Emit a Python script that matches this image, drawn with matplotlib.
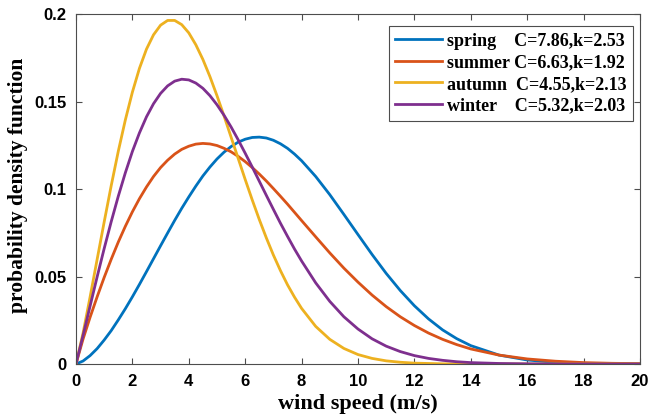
import matplotlib
matplotlib.use("Agg")
import matplotlib.pyplot as plt

# wind speed grid (m/s) and pdf values
speed = [0, 0.25, 0.5, 0.75, 1, 1.25, 1.5, 1.75, 2, 2.25, 2.5, 2.75, 3, 3.25, 3.5, 3.75,
         4, 4.25, 4.5, 4.75, 5, 5.25, 5.5, 5.75, 6, 6.25, 6.5, 6.75, 7, 7.25, 7.5, 7.75,
         8, 8.5, 9, 9.5, 10, 10.5, 11, 11.5, 12, 12.5, 13, 13.5, 14,
         15, 16, 17, 18, 19, 20]

spring = [0, 0.0017, 0.0048, 0.0088, 0.0137, 0.0191, 0.0252, 0.0316, 0.0384, 0.0455,
          0.0528, 0.0602, 0.0676, 0.0749, 0.0821, 0.0890, 0.0955, 0.1017, 0.1075, 0.1126,
          0.1172, 0.1211, 0.1243, 0.1268, 0.1285, 0.1295, 0.1297, 0.1292, 0.1279, 0.1259,
          0.1233, 0.1200, 0.1162, 0.1072, 0.0968, 0.0855, 0.0740, 0.0626, 0.0518, 0.0420,
          0.0333, 0.0258, 0.0195, 0.0145, 0.0105, 0.0051, 0.0023, 0.0009, 0.0003, 0.0001,
          0.0]
summer = [0, 0.0142, 0.0267, 0.0384, 0.0495, 0.0599, 0.0697, 0.0787, 0.0870, 0.0945,
          0.1012, 0.1072, 0.1123, 0.1165, 0.1200, 0.1227, 0.1245, 0.1257, 0.1261, 0.1258,
          0.1249, 0.1233, 0.1213, 0.1187, 0.1157, 0.1123, 0.1086, 0.1046, 0.1003, 0.0959,
          0.0914, 0.0867, 0.0820, 0.0727, 0.0635, 0.0548, 0.0468, 0.0394, 0.0328, 0.0270,
          0.0220, 0.0177, 0.0141, 0.0111, 0.0086, 0.0051, 0.0029, 0.0016, 0.0008, 0.0004,
          0.0002]
autumn = [0, 0.0176, 0.0383, 0.0598, 0.0812, 0.1020, 0.1216, 0.1395, 0.1554, 0.1690,
          0.1800, 0.1882, 0.1937, 0.1964, 0.1964, 0.1940, 0.1893, 0.1825, 0.1741, 0.1643,
          0.1534, 0.1418, 0.1297, 0.1176, 0.1055, 0.0938, 0.0826, 0.0721, 0.0623, 0.0534,
          0.0453, 0.0382, 0.0318, 0.0215, 0.0141, 0.0089, 0.0054, 0.0032, 0.0018, 0.0010,
          0.0005, 0.0003, 0.0001, 0.0001, 0.0, 0.0, 0.0, 0.0, 0.0, 0.0, 0.0]
winter = [0, 0.0163, 0.0331, 0.0498, 0.0660, 0.0814, 0.0959, 0.1093, 0.1215, 0.1321,
          0.1413, 0.1488, 0.1547, 0.1590, 0.1617, 0.1628, 0.1624, 0.1606, 0.1576, 0.1534,
          0.1482, 0.1422, 0.1355, 0.1282, 0.1205, 0.1126, 0.1045, 0.0964, 0.0884, 0.0805,
          0.0730, 0.0657, 0.0589, 0.0464, 0.0358, 0.0270, 0.0200, 0.0144, 0.0102, 0.0071,
          0.0048, 0.0032, 0.0021, 0.0013, 0.0008, 0.0003, 0.0001, 0.0, 0.0, 0.0, 0.0]

labels = ["spring    C=7.86,k=2.53",
          "summer C=6.63,k=1.92",
          "autumn  C=4.55,k=2.13",
          "winter    C=5.32,k=2.03"]
colors = ["#0072BD", "#D95319", "#EDB120", "#7E2F8E"]

fig = plt.figure(figsize=(6.63, 4.16), dpi=100)
ax = fig.add_axes([0.1146, 0.125, 0.8507, 0.841])

for y, lab, c in zip([spring, summer, autumn, winter], labels, colors):
    ax.plot(speed, y, color=c, lw=2, label=lab, solid_joinstyle="round")

ax.set_xlim(0, 20)
ax.set_ylim(0, 0.2)
ax.set_xticks(range(0, 21, 2))
ax.set_yticks([0, 0.05, 0.1, 0.15, 0.2])
ax.set_yticklabels(["0", "0.05", "0.1", "0.15", "0.2"])
ax.tick_params(direction="in", top=True, right=True, length=4, color="0.3",
               labelsize=12)
ax.tick_params(axis="x", pad=7)
ax.tick_params(axis="y", pad=7)
for t in ax.get_xticklabels() + ax.get_yticklabels():
    t.set_fontfamily("Liberation Sans")
    t.set_fontweight("bold")
for s in ax.spines.values():
    s.set_color("0.3")
    s.set_linewidth(0.8)

ax.set_xlabel("wind speed (m/s)", family="Liberation Serif", weight="bold",
              fontsize=16, labelpad=4)
ax.set_ylabel("probability density function", family="Liberation Serif",
              weight="bold", fontsize=15.5)
ax.yaxis.set_label_coords(-0.085, 0.51)

leg = ax.legend(loc="upper right", bbox_to_anchor=(0.988, 0.965),
                prop={"family": "Liberation Serif", "weight": "bold", "size": 13},
                fancybox=False, edgecolor="0.3", framealpha=1,
                handlelength=2.6, handletextpad=0.3, borderpad=0.35,
                labelspacing=0.25, borderaxespad=0)
leg.get_frame().set_linewidth(0.8)

fig.savefig("out.png", dpi=100)
